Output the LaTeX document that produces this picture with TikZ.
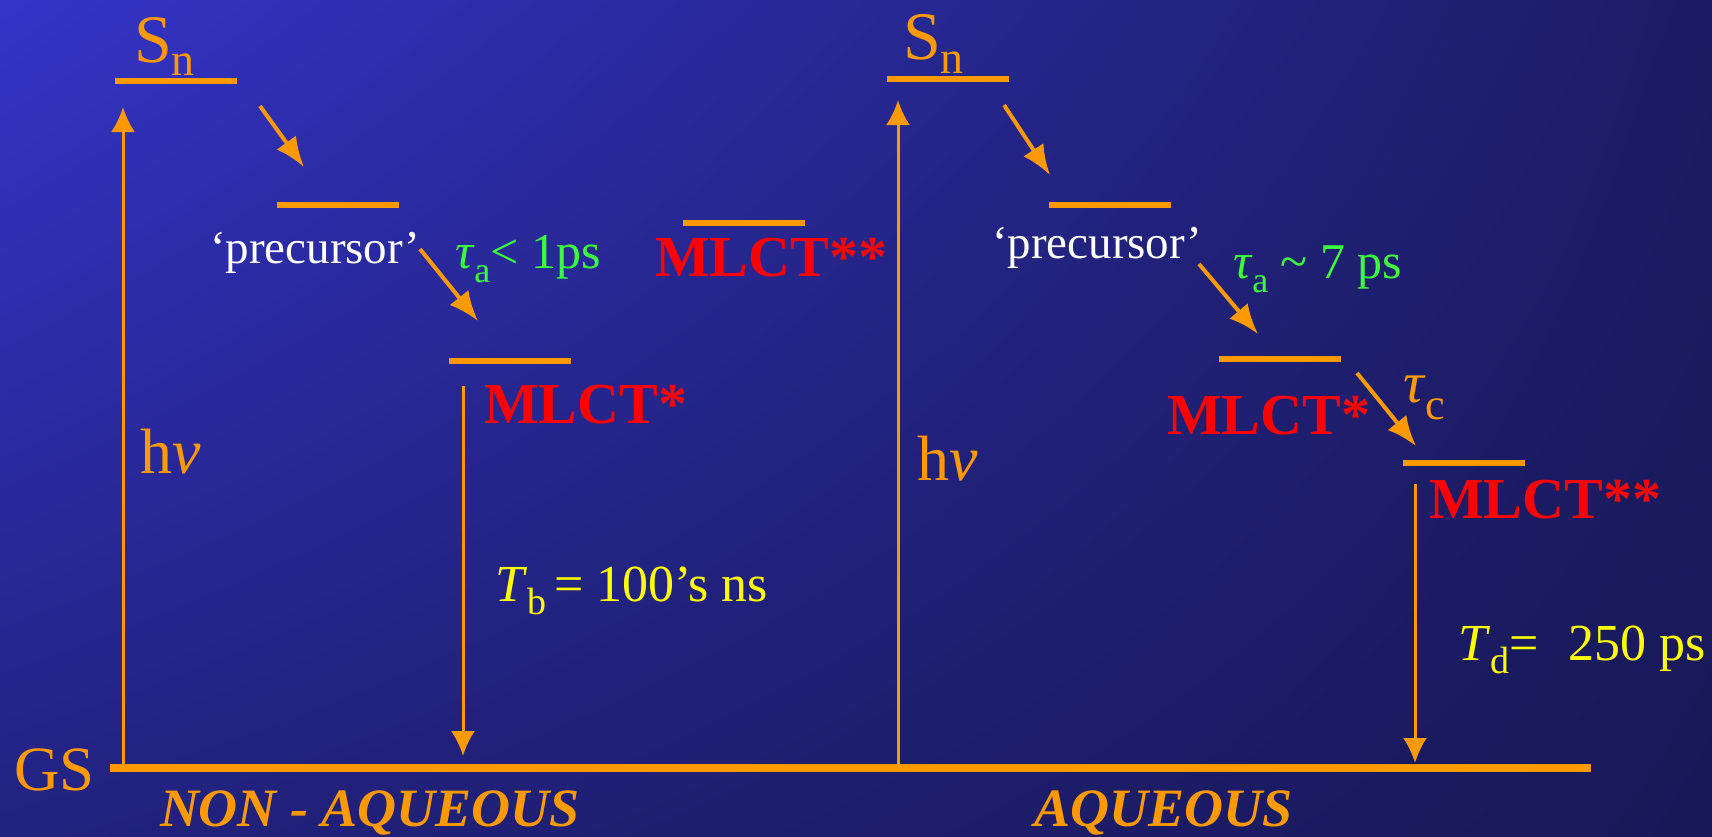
\documentclass[tikz,border=0pt]{standalone}
\usepackage{fontspec}
\setmainfont{Liberation Serif}
\usetikzlibrary{arrows.meta,shadings}
\definecolor{orng}{RGB}{255,153,0}
\definecolor{grn}{RGB}{60,255,60}
\definecolor{ylw}{RGB}{255,255,0}
\definecolor{rd}{RGB}{255,0,0}
\definecolor{bgUL}{RGB}{52,52,200}
\definecolor{bgUR}{RGB}{28,28,100}
\definecolor{bgLL}{RGB}{34,34,128}
\definecolor{bgLR}{RGB}{24,24,88}
\newcommand{\fsz}[1]{\fontsize{#1}{#1}\selectfont}
\newcommand{\lowsub}[3]{\raisebox{-#1pt}{\fsz{#2}#3}}
\begin{document}
\begin{tikzpicture}[x=1pt,y=-1pt,
  txt/.style={inner sep=0pt,outer sep=0pt,anchor=base west},
  lvl/.style={draw=orng,line width=6pt},
  gsline/.style={draw=orng,line width=8pt},
  vup/.style={draw=orng,line width=3pt,-{Latex[length=25pt,width=24pt]}},
  diag/.style={draw=orng,line width=4pt,-{Latex[length=30pt,width=24pt]}},
  state/.style={txt,text=rd,font=\fsz{58}\bfseries},
  lbl/.style={txt,text=orng},
]
\useasboundingbox (0,0) rectangle (1712,836);
\shade[upper left=bgUL,upper right=bgUR,lower left=bgLL,lower right=bgLR] (0,0) rectangle (1712,836);
\begin{scope}
\clip (0,0) rectangle (1712,836);
\node[txt,text=black,font=\fsz{70}\bfseries] (scheme) at (1350,-3) {Scheme};
\end{scope}

% coordinates
\coordinate (gsA) at (110,768);
\coordinate (gsB) at (1591,768);
\coordinate (snLa) at (115,81);   \coordinate (snLb) at (237,81);
\coordinate (prLa) at (277,205);  \coordinate (prLb) at (399,205);
\coordinate (mLa) at (449,361);   \coordinate (mLb) at (571,361);
\coordinate (mmA) at (683,223);   \coordinate (mmB) at (805,223);
\coordinate (snRa) at (887,79);   \coordinate (snRb) at (1009,79);
\coordinate (prRa) at (1049,205); \coordinate (prRb) at (1171,205);
\coordinate (mRa) at (1219,359);  \coordinate (mRb) at (1341,359);
\coordinate (mmRa) at (1403,463); \coordinate (mmRb) at (1525,463);

% levels
\draw[gsline] (gsA) -- (gsB);
\draw[lvl] (snLa) -- (snLb);
\draw[lvl] (prLa) -- (prLb);
\draw[lvl] (mLa) -- (mLb);
\draw[lvl] (mmA) -- (mmB);
\draw[lvl] (snRa) -- (snRb);
\draw[lvl] (prRa) -- (prRb);
\draw[lvl] (mRa) -- (mRb);
\draw[lvl] (mmRa) -- (mmRb);

% arrow end points
\coordinate (hvLs) at (123,768);  \coordinate (hvLe) at (123,107);
\coordinate (a1s) at (260,106);   \coordinate (a1e) at (304,167);
\coordinate (a2s) at (420,249);   \coordinate (a2e) at (478,321);
\coordinate (dLs) at (463,386);   \coordinate (dLe) at (463,756);
\coordinate (hvRs) at (898,768);  \coordinate (hvRe) at (898,100);
\coordinate (a3s) at (1004,105);  \coordinate (a3e) at (1050,175);
\coordinate (a4s) at (1199,264);  \coordinate (a4e) at (1258,334);
\coordinate (a5s) at (1357,373);  \coordinate (a5e) at (1416,446);
\coordinate (dRs) at (1415,484);  \coordinate (dRe) at (1415,763);

\draw[vup] (hvLs) -- (hvLe);
\draw[diag] (a1s) -- (a1e);
\draw[diag] (a2s) -- (a2e);
\draw[vup] (dLs) -- (dLe);
\draw[vup] (hvRs) -- (hvRe);
\draw[diag] (a3s) -- (a3e);
\draw[diag] (a4s) -- (a4e);
\draw[diag] (a5s) -- (a5e);
\draw[vup] (dRs) -- (dRe);

% texts
\node[lbl] (snL) at (134,62) {\fsz{68}S\lowsub{13}{46}{n}};
\node[lbl] (snR) at (903,59) {\fsz{68}S\lowsub{14}{46}{n}};
\node[txt,text=white,font=\fsz{47}] (precL) at (210,263) {‘precursor’};
\node[txt,text=white,font=\fsz{47}] (precR) at (992,258) {‘precursor’};
\node[txt,text=grn,font=\fsz{50}] (tauaL) at (455,268) {\textit{τ}\lowsub{14}{36}{a}< 1ps};
\node[txt,text=grn,font=\fsz{50}] (tauaR) at (1233,278) {\textit{τ}\lowsub{14}{36}{a} \textasciitilde{} 7 ps};
\node[state] (mlctL) at (484,423) {MLCT*};
\node[state] (mlctM) at (655,276) {MLCT**};
\node[state] (mlctR) at (1167,434) {MLCT*};
\node[state] (mlctRR) at (1429,518) {MLCT**};
\node[lbl,font=\fsz{58}] (tauc) at (1403,402) {\textit{τ}\lowsub{17}{44}{c}};
\node[lbl,font=\fsz{64}] (hvL) at (140,473) {h\textit{ν}};
\node[lbl,font=\fsz{64}] (hvR) at (917,480) {h\textit{ν}};
\node[txt,text=ylw,font=\fsz{52}] (tb) at (495,601) {\textit{T}\lowsub{13}{38}{b}\hspace{8pt}= 100’s ns};
\node[txt,text=ylw,font=\fsz{52}] (td) at (1458,660) {\textit{T}\lowsub{13}{38}{d}=\hspace{30pt}250 ps};
\node[lbl,font=\fsz{63}] (gs) at (14,790) {GS};
\node[lbl,font=\fsz{54}\bfseries\itshape] (nonaq) at (160,826) {NON - AQUEOUS};
\node[lbl,font=\fsz{54}\bfseries\itshape] (aq) at (1034,826) {AQUEOUS};
\end{tikzpicture}
\end{document}
